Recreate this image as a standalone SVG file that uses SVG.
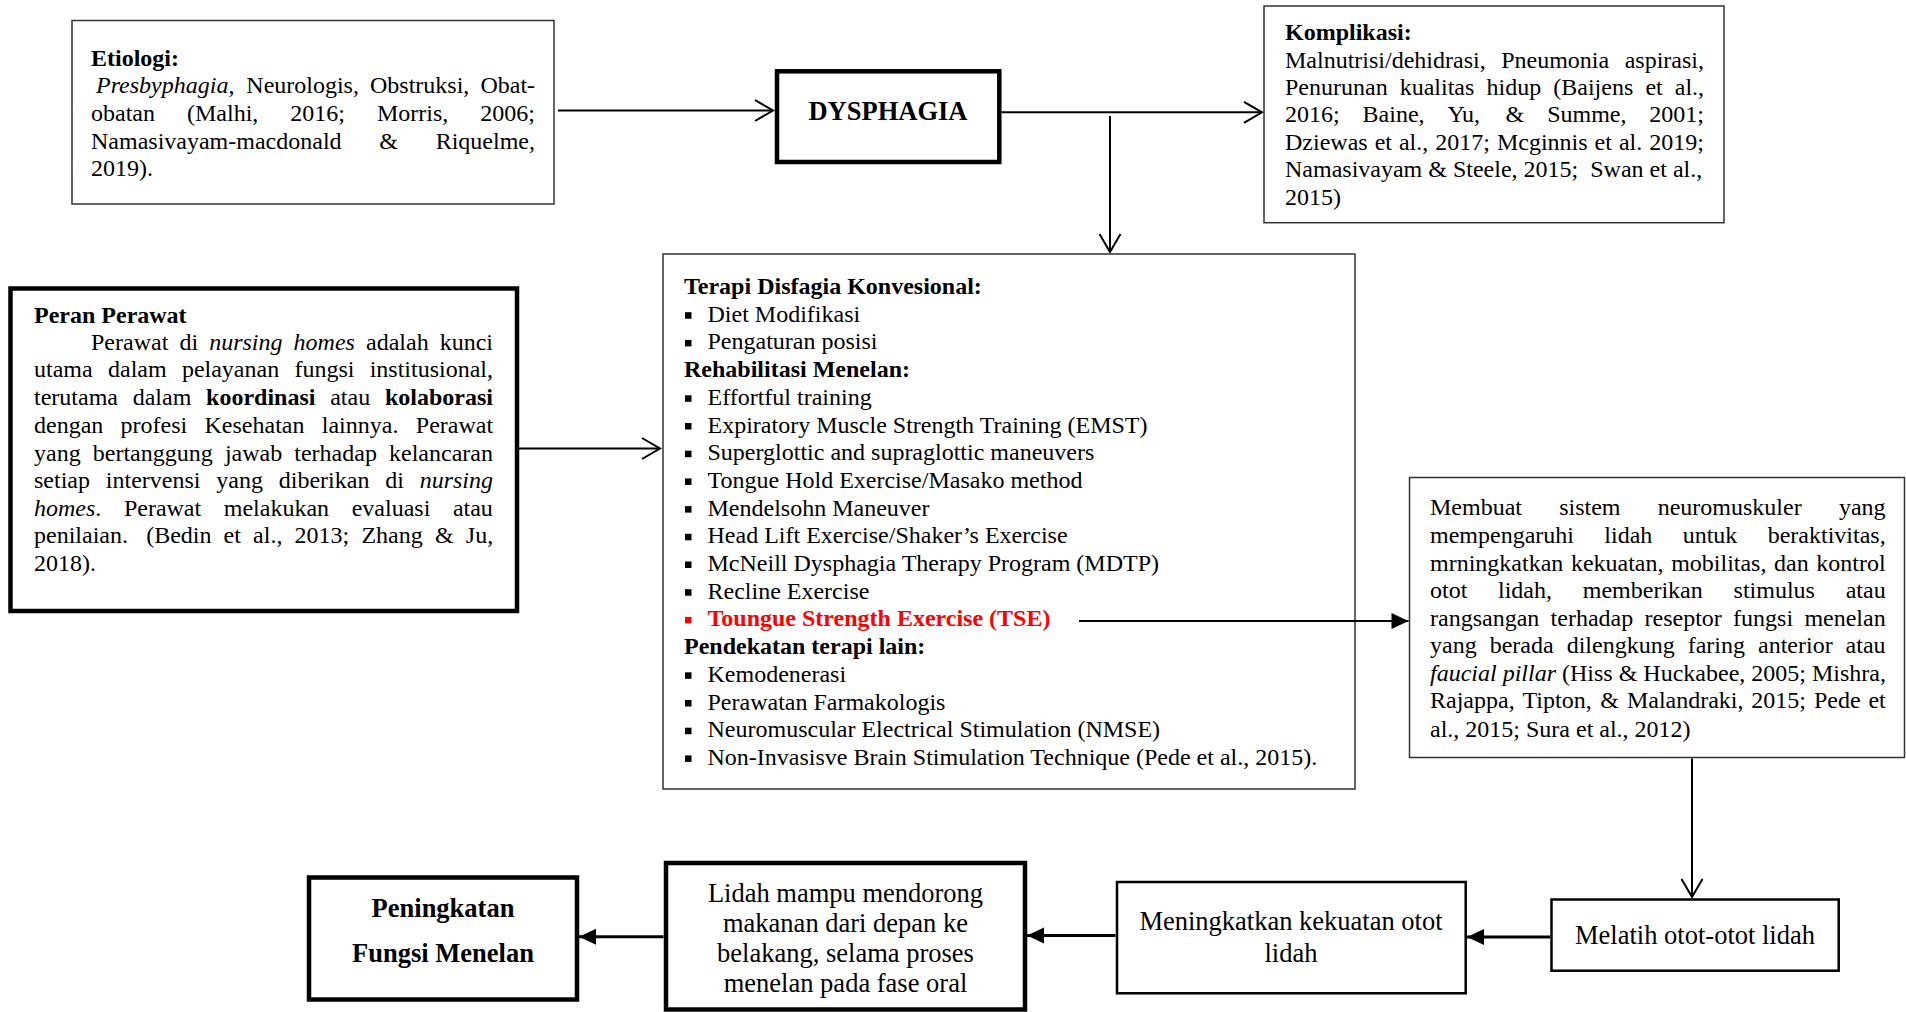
<svg xmlns="http://www.w3.org/2000/svg" width="1906" height="1012" viewBox="0 0 1906 1012">
<style>
.t{font-family:"Liberation Serif","Times New Roman",serif;font-size:24px;fill:#000}
.big{font-size:26.5px}
.b{font-weight:bold}
.i{font-style:italic}
.red{fill:#ff0000}
.thin{fill:#fff;stroke:#333;stroke-width:1.5}
.thick{fill:#fff;stroke:#000;stroke-width:4.5}
.med{fill:#fff;stroke:#000;stroke-width:2.5}
.ln{fill:none;stroke:#000;stroke-width:2}
.ln3{fill:none;stroke:#000;stroke-width:3}
</style>
<defs>
<marker id="open" markerUnits="userSpaceOnUse" markerWidth="24" markerHeight="26" refX="19" refY="11" orient="auto" overflow="visible">
<path d="M1,0.5 L19,11 L1,21.5" fill="none" stroke="#000" stroke-width="2"/>
</marker>
<marker id="fill" markerUnits="userSpaceOnUse" markerWidth="20" markerHeight="18" refX="17" refY="8" orient="auto" overflow="visible">
<path d="M0,0 L17,8 L0,16 Z" fill="#000"/>
</marker>
</defs>
<rect width="1906" height="1012" fill="#fff"/>

<g id="etiologi">
<rect class="thin" x="72" y="20.5" width="482" height="183.5"/>
<text class="t b" x="91" y="65.5">Etiologi:</text>
<text class="t" y="93.2"><tspan x="96" class="i">Presbyphagia</tspan><tspan>,</tspan><tspan x="246.3">Neurologis,</tspan><tspan x="370">Obstruksi,</tspan><tspan x="480.4">Obat-</tspan></text>
<text class="t" y="120.8"><tspan x="91">obatan</tspan><tspan x="187">(Malhi,</tspan><tspan x="290.3">2016;</tspan><tspan x="377">Morris,</tspan><tspan x="480.3">2006;</tspan></text>
<text class="t" y="148.5"><tspan x="91">Namasivayam-macdonald</tspan><tspan x="379.3">&amp;</tspan><tspan x="435.7">Riquelme,</tspan></text>
<text class="t" x="91" y="176">2019).</text>
</g>

<g id="dysphagia">
<rect class="thick" x="777" y="71.3" width="222.3" height="90.7"/>
<text class="t b" x="888" y="120" style="font-size:26.5px" text-anchor="middle">DYSPHAGIA</text>
</g>

<g id="komplikasi">
<rect class="thin" x="1264" y="6" width="460" height="216.7"/>
<text class="t b" x="1285" y="40.2">Komplikasi:</text>
<text class="t" y="67.6"><tspan x="1285">Malnutrisi/dehidrasi,</tspan><tspan x="1501.2">Pneumonia</tspan><tspan x="1624.7">aspirasi,</tspan></text>
<text class="t" y="95"><tspan x="1285">Penurunan</tspan><tspan x="1399.7">kualitas</tspan><tspan x="1486.5">hidup</tspan><tspan x="1553.3">(Baijens</tspan><tspan x="1645.4">et</tspan><tspan x="1674.8">al.,</tspan></text>
<text class="t" y="122.4"><tspan x="1285">2016;</tspan><tspan x="1362.6">Baine,</tspan><tspan x="1447.4">Yu,</tspan><tspan x="1505.6">&amp;</tspan><tspan x="1547.2">Summe,</tspan><tspan x="1649.3">2001;</tspan></text>
<text class="t" x="1285" y="149.8" word-spacing="1">Dziewas et al., 2017; Mcginnis et al. 2019;</text>
<text class="t" x="1285" y="177.2">Namasivayam &amp; Steele, 2015; <tspan dx="6">Swan et al.,</tspan></text>
<text class="t" x="1285" y="204.6">2015)</text>
</g>

<g id="peran-perawat">
<rect class="thick" x="10.5" y="288.5" width="506.5" height="322.5"/>
<text class="t b" x="34" y="322.7">Peran Perawat</text>
<text class="t" y="350"><tspan x="91">Perawat</tspan><tspan x="179.4">di</tspan><tspan x="209.2" class="i">nursing</tspan><tspan x="293.6" class="i">homes</tspan><tspan x="366">adalah</tspan><tspan x="439.7">kunci</tspan></text>
<text class="t" y="377.3"><tspan x="34">utama</tspan><tspan x="108">dalam</tspan><tspan x="181.9">pelayanan</tspan><tspan x="294.5">fungsi</tspan><tspan x="369.7">institusional,</tspan></text>
<text class="t" y="405"><tspan x="34">terutama</tspan><tspan x="132.7">dalam</tspan><tspan x="206.1" class="b">koordinasi</tspan><tspan x="330.2">atau</tspan><tspan x="384.9" class="b">kolaborasi</tspan></text>
<text class="t" y="432.7"><tspan x="34">dengan</tspan><tspan x="120.6">profesi</tspan><tspan x="204.5">Kesehatan</tspan><tspan x="321.8">lainnya.</tspan><tspan x="415.8">Perawat</tspan></text>
<text class="t" y="460.7"><tspan x="34">yang</tspan><tspan x="92.8">bertanggung</tspan><tspan x="224.9">jawab</tspan><tspan x="294.3">terhadap</tspan><tspan x="389">kelancaran</tspan></text>
<text class="t" y="488.3"><tspan x="34">setiap</tspan><tspan x="105.8">intervensi</tspan><tspan x="216.3">yang</tspan><tspan x="278.8">diberikan</tspan><tspan x="385.2">di</tspan><tspan x="419.7" class="i">nursing</tspan></text>
<text class="t" y="516"><tspan x="34" class="i">homes</tspan><tspan>.</tspan><tspan x="123.9">Perawat</tspan><tspan x="223.8">melakukan</tspan><tspan x="351.7">evaluasi</tspan><tspan x="452.9">atau</tspan></text>
<text class="t" y="543.3"><tspan x="34">penilaian.</tspan><tspan x="146.2">(Bedin</tspan><tspan x="223.6">et</tspan><tspan x="253.1">al.,</tspan><tspan x="294.5">2013;</tspan><tspan x="361.4">Zhang</tspan><tspan x="434.9">&amp;</tspan><tspan x="465.8">Ju,</tspan></text>
<text class="t" x="34" y="570.7">2018).</text>
</g>

<g id="terapi">
<rect class="thin" x="663" y="254" width="692" height="535"/>
<text class="t b" x="684" y="294">Terapi Disfagia Konvesional:</text>
<rect x="685" y="312.2" width="6.5" height="6.5"/><text class="t" x="707.5" y="321.7">Diet Modifikasi</text>
<rect x="685" y="339.9" width="6.5" height="6.5"/><text class="t" x="707.5" y="349.4">Pengaturan posisi</text>
<text class="t b" x="684" y="377.1">Rehabilitasi Menelan:</text>
<rect x="685" y="395.3" width="6.5" height="6.5"/><text class="t" x="707.5" y="404.8">Effortful training</text>
<rect x="685" y="423" width="6.5" height="6.5"/><text class="t" x="707.5" y="432.5">Expiratory Muscle Strength Training (EMST)</text>
<rect x="685" y="450.7" width="6.5" height="6.5"/><text class="t" x="707.5" y="460.2">Superglottic and supraglottic maneuvers</text>
<rect x="685" y="478.4" width="6.5" height="6.5"/><text class="t" x="707.5" y="487.9">Tongue Hold Exercise/Masako method</text>
<rect x="685" y="506.1" width="6.5" height="6.5"/><text class="t" x="707.5" y="515.6">Mendelsohn Maneuver</text>
<rect x="685" y="533.8" width="6.5" height="6.5"/><text class="t" x="707.5" y="543.3">Head Lift Exercise/Shaker’s Exercise</text>
<rect x="685" y="561.5" width="6.5" height="6.5"/><text class="t" x="707.5" y="571">McNeill Dysphagia Therapy Program (MDTP)</text>
<rect x="685" y="589.2" width="6.5" height="6.5"/><text class="t" x="707.5" y="598.7">Recline Exercise</text>
<rect x="685" y="616.9" width="6.5" height="6.5" fill="#ff0000"/><text class="t b red" x="707.5" y="626.4">Toungue Strength Exercise (TSE)</text>
<text class="t b" x="684" y="654.1">Pendekatan terapi lain:</text>
<rect x="685" y="672.3" width="6.5" height="6.5"/><text class="t" x="707.5" y="681.8">Kemodenerasi</text>
<rect x="685" y="700" width="6.5" height="6.5"/><text class="t" x="707.5" y="709.5">Perawatan Farmakologis</text>
<rect x="685" y="727.7" width="6.5" height="6.5"/><text class="t" x="707.5" y="737.2">Neuromuscular Electrical Stimulation (NMSE)</text>
<rect x="685" y="755.4" width="6.5" height="6.5"/><text class="t" x="707.5" y="764.9">Non-Invasisve Brain Stimulation Technique (Pede et al., 2015).</text>
</g>

<g id="membuat">
<rect class="thin" x="1409.5" y="477.5" width="495" height="280"/>
<text class="t" y="515"><tspan x="1430">Membuat</tspan><tspan x="1559.2">sistem</tspan><tspan x="1657.7">neuromuskuler</tspan><tspan x="1838.9">yang</tspan></text>
<text class="t" y="542.7"><tspan x="1430">mempengaruhi</tspan><tspan x="1604.3">lidah</tspan><tspan x="1682.7">untuk</tspan><tspan x="1767.7">beraktivitas,</tspan></text>
<text class="t" x="1430" y="570.7" word-spacing="1.6">mrningkatkan kekuatan, mobilitas, dan kontrol</text>
<text class="t" y="598.3"><tspan x="1430">otot</tspan><tspan x="1498">lidah,</tspan><tspan x="1582.8">memberikan</tspan><tspan x="1733.6">stimulus</tspan><tspan x="1845.7">atau</tspan></text>
<text class="t" y="626"><tspan x="1430">rangsangan</tspan><tspan x="1550.6">terhadap</tspan><tspan x="1644.5">reseptor</tspan><tspan x="1733.1">fungsi</tspan><tspan x="1804.4">menelan</tspan></text>
<text class="t" y="653.3"><tspan x="1430">yang</tspan><tspan x="1489.7">berada</tspan><tspan x="1566.7">dilengkung</tspan><tspan x="1687.7">faring</tspan><tspan x="1758">anterior</tspan><tspan x="1845.6">atau</tspan></text>
<text class="t" x="1430" y="680.7"><tspan class="i">faucial pillar</tspan> (Hiss &amp; Huckabee, 2005; Mishra,</text>
<text class="t" y="708.3"><tspan x="1430">Rajappa,</tspan><tspan x="1522.5">Tipton,</tspan><tspan x="1600.3">&amp;</tspan><tspan x="1626.9">Malandraki,</tspan><tspan x="1751.3">2015;</tspan><tspan x="1813.9">Pede</tspan><tspan x="1868.4">et</tspan></text>
<text class="t" x="1430" y="736.7">al., 2015; Sura et al., 2012)</text>
</g>

<g id="melatih">
<rect class="med" x="1551.5" y="899.5" width="287.2" height="71.2"/>
<text class="t big" x="1695" y="944" text-anchor="middle">Melatih otot-otot lidah</text>
</g>

<g id="meningkatkan">
<rect class="med" x="1117" y="882" width="348.7" height="111.3"/>
<text class="t big" x="1291" y="930" text-anchor="middle">Meningkatkan kekuatan otot</text>
<text class="t big" x="1291" y="961.7" text-anchor="middle">lidah</text>
</g>

<g id="lidah">
<rect class="thick" x="666" y="863" width="359" height="146.5"/>
<text class="t big" x="845.5" y="901.7" text-anchor="middle">Lidah mampu mendorong</text>
<text class="t big" x="845.5" y="931.7" text-anchor="middle">makanan dari depan ke</text>
<text class="t big" x="845.5" y="961.7" text-anchor="middle">belakang, selama proses</text>
<text class="t big" x="845.5" y="991.7" text-anchor="middle">menelan pada fase oral</text>
</g>

<g id="peningkatan">
<rect class="thick" x="309" y="877.5" width="268" height="122"/>
<text class="t big b" x="443" y="916.7" text-anchor="middle">Peningkatan</text>
<text class="t big b" x="443" y="961.7" text-anchor="middle">Fungsi Menelan</text>
</g>

<g id="connectors">
<line class="ln" x1="558" y1="110.5" x2="773" y2="110.5" marker-end="url(#open)"/>
<line class="ln" x1="1001.5" y1="112.3" x2="1262" y2="112.3" marker-end="url(#open)"/>
<line class="ln" x1="1110" y1="116" x2="1110" y2="252" marker-end="url(#open)"/>
<line class="ln" x1="519" y1="448.5" x2="660" y2="448.5" marker-end="url(#open)"/>
<line class="ln" x1="1079" y1="621" x2="1408.5" y2="621" stroke-width="2.5" marker-end="url(#fill)"/>
<line class="ln" x1="1692" y1="758.5" x2="1692" y2="897" marker-end="url(#open)"/>
<line class="ln3" x1="1550" y1="937" x2="1467" y2="937" marker-end="url(#fill)"/>
<line class="ln3" x1="1115.5" y1="935.5" x2="1027" y2="935.5" marker-end="url(#fill)"/>
<line class="ln3" x1="663.5" y1="936.7" x2="579" y2="936.7" marker-end="url(#fill)"/>
</g>
</svg>
